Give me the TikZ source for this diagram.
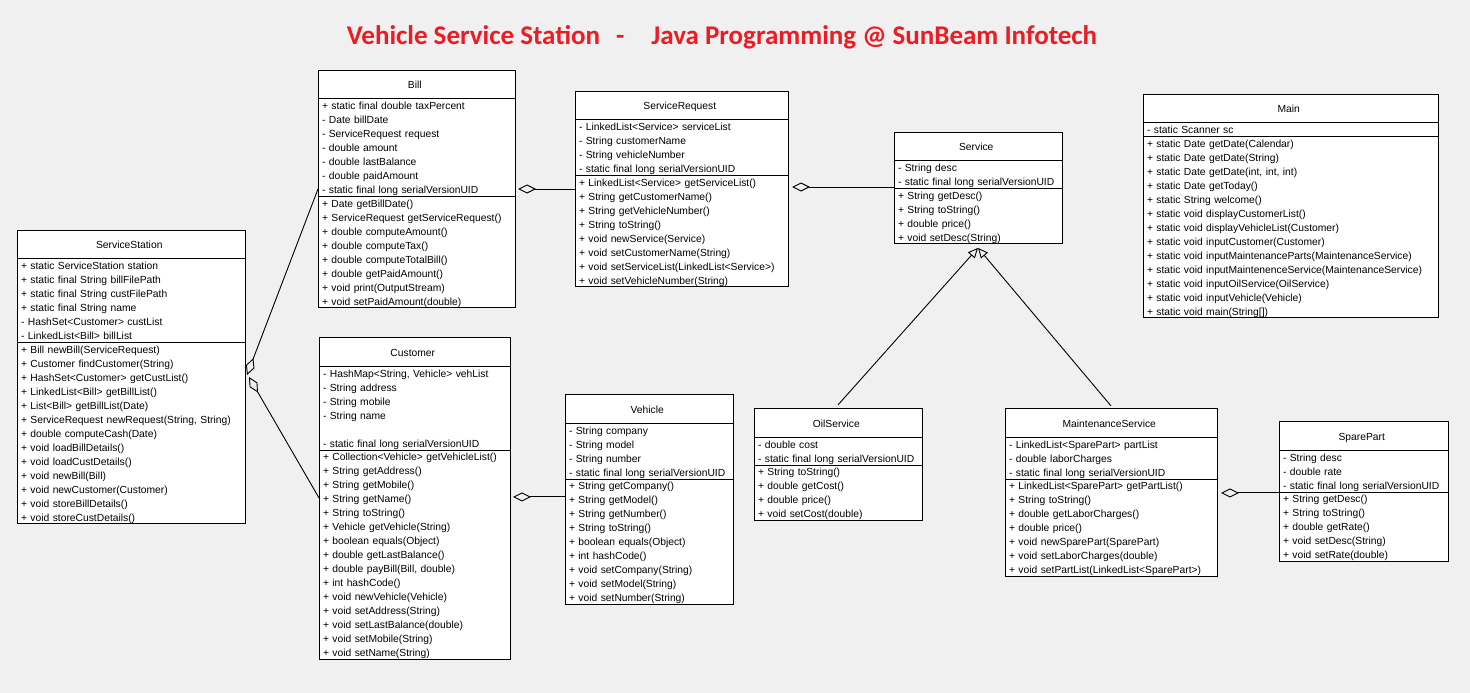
\documentclass[tikz,border=0pt]{standalone}
\usepackage{fontspec}
\setmainfont{Liberation Sans}
\newfontfamily\titlefont{Carlito}
\usetikzlibrary{shapes.multipart,positioning,arrows.meta}
\definecolor{bggray}{RGB}{240,240,240}
\definecolor{titlered}{RGB}{236,28,36}
\newcommand\clsname[1]{\hfill\rule[-10.2pt]{0pt}{28pt}#1\hfill\mbox{}}
\newcommand\linestrut{\rule[-2.4pt]{0pt}{12.6pt}}

\begin{document}
\begin{tikzpicture}[x=1pt, y=-1pt, line width=0.9pt,
  cls/.style={rectangle split, rectangle split parts=3, draw, fill=white,
    text width=#1-8pt, inner xsep=4pt, inner ysep=0pt, outer sep=0pt,
    font={\fontsize{10.3}{14}\selectfont\hyphenpenalty=10000},
    execute at begin node=\linestrut, execute at end node=\linestrut},
  agg/.style={{Diamond[open,length=18pt,width=9pt]}-},
  gen/.style={-{Triangle[open,length=10pt,width=9pt]}}]
  \path[fill=bggray] (0,0) rectangle (1470,693);
  \useasboundingbox (0,0) rectangle (1470,693);
  \node[font={\titlefont\bfseries\fontsize{27}{32}\selectfont}, text=titlered] (title) at (722,37)
    {Vehicle Service Station\hspace{16pt}-\hspace{27pt}Java Programming @ SunBeam Infotech};

  \node[cls=197pt, anchor=north west] (bill) at (318,70) {\clsname{Bill}
    \nodepart{second}+ static final double taxPercent\\
    - Date billDate\\
    - ServiceRequest request\\
    - double amount\\
    - double lastBalance\\
    - double paidAmount\\
    - static final long serialVersionUID
    \nodepart{third}+ Date getBillDate()\\
    + ServiceRequest getServiceRequest()\\
    + double computeAmount()\\
    + double computeTax()\\
    + double computeTotalBill()\\
    + double getPaidAmount()\\
    + void print(OutputStream)\\
    + void setPaidAmount(double)};
  \node[cls=228pt, below left=160pt and 301pt of bill.north west, anchor=north west] (ss) {\clsname{ServiceStation}
    \nodepart{second}+ static ServiceStation station\\
    + static final String billFilePath\\
    + static final String custFilePath\\
    + static final String name\\
    - HashSet<Customer> custList\\
    - LinkedList<Bill> billList
    \nodepart{third}+ Bill newBill(ServiceRequest)\\
    + Customer findCustomer(String)\\
    + HashSet<Customer> getCustList()\\
    + LinkedList<Bill> getBillList()\\
    + List<Bill> getBillList(Date)\\
    + ServiceRequest newRequest(String, String)\\
    + double computeCash(Date)\\
    + void loadBillDetails()\\
    + void loadCustDetails()\\
    + void newBill(Bill)\\
    + void newCustomer(Customer)\\
    + void storeBillDetails()\\
    + void storeCustDetails()};
  \node[cls=213pt, below right=21pt and 60pt of bill.north east, anchor=north west] (sreq) {\clsname{ServiceRequest}
    \nodepart{second}- LinkedList<Service> serviceList\\
    - String customerName\\
    - String vehicleNumber\\
    - static final long serialVersionUID
    \nodepart{third}+ LinkedList<Service> getServiceList()\\
    + String getCustomerName()\\
    + String getVehicleNumber()\\
    + String toString()\\
    + void newService(Service)\\
    + void setCustomerName(String)\\
    + void setServiceList(LinkedList<Service>)\\
    + void setVehicleNumber(String)};
  \node[cls=168pt, below right=41pt and 106pt of sreq.north east, anchor=north west] (serv) {\clsname{Service}
    \nodepart{second}- String desc\\
    - static final long serialVersionUID
    \nodepart{third}+ String getDesc()\\
    + String toString()\\
    + double price()\\
    + void setDesc(String)};
  \node[cls=295pt, above right=38pt and 81pt of serv.north east, anchor=north west] (mainc) {\clsname{Main}
    \nodepart{second}- static Scanner sc
    \nodepart{third}+ static Date getDate(Calendar)\\
    + static Date getDate(String)\\
    + static Date getDate(int, int, int)\\
    + static Date getToday()\\
    + static String welcome()\\
    + static void displayCustomerList()\\
    + static void displayVehicleList(Customer)\\
    + static void inputCustomer(Customer)\\
    + static void inputMaintenanceParts(MaintenanceService)\\
    + static void inputMaintenenceService(MaintenanceService)\\
    + static void inputOilService(OilService)\\
    + static void inputVehicle(Vehicle)\\
    + static void main(String[])};
  \node[cls=191pt, below right=30pt and 1pt of bill.south west, anchor=north west] (cust) {\clsname{Customer}
    \nodepart{second}- HashMap<String, Vehicle> vehList\\
    - String address\\
    - String mobile\\
    - String name\\
    ~\\
    - static final long serialVersionUID
    \nodepart{third}+ Collection<Vehicle> getVehicleList()\\
    + String getAddress()\\
    + String getMobile()\\
    + String getName()\\
    + String toString()\\
    + Vehicle getVehicle(String)\\
    + boolean equals(Object)\\
    + double getLastBalance()\\
    + double payBill(Bill, double)\\
    + int hashCode()\\
    + void newVehicle(Vehicle)\\
    + void setAddress(String)\\
    + void setLastBalance(double)\\
    + void setMobile(String)\\
    + void setName(String)};
  \node[cls=168pt, below right=57pt and 55pt of cust.north east, anchor=north west] (veh) {\clsname{Vehicle}
    \nodepart{second}- String company\\
    - String model\\
    - String number\\
    - static final long serialVersionUID
    \nodepart{third}+ String getCompany()\\
    + String getModel()\\
    + String getNumber()\\
    + String toString()\\
    + boolean equals(Object)\\
    + int hashCode()\\
    + void setCompany(String)\\
    + void setModel(String)\\
    + void setNumber(String)};
  \node[cls=168pt, below right=14pt and 21pt of veh.north east, anchor=north west] (oil) {\clsname{OilService}
    \nodepart{second}- double cost\\
    - static final long serialVersionUID
    \nodepart{third}+ String toString()\\
    + double getCost()\\
    + double price()\\
    + void setCost(double)};
  \node[cls=212pt, right=83pt of oil.north east, anchor=north west] (maint) {\clsname{MaintenanceService}
    \nodepart{second}- LinkedList<SparePart> partList\\
    - double laborCharges\\
    - static final long serialVersionUID
    \nodepart{third}+ LinkedList<SparePart> getPartList()\\
    + String toString()\\
    + double getLaborCharges()\\
    + double price()\\
    + void newSparePart(SparePart)\\
    + void setLaborCharges(double)\\
    + void setPartList(LinkedList<SparePart>)};
  \node[cls=169pt, below right=13pt and 62pt of maint.north east, anchor=north west] (spare) {\clsname{SparePart}
    \nodepart{second}- String desc\\
    - double rate\\
    - static final long serialVersionUID
    \nodepart{third}+ String getDesc()\\
    + String toString()\\
    + double getRate()\\
    + void setDesc(String)\\
    + void setRate(double)};

  \draw[agg] ([xshift=2pt,yshift=-145pt]ss.north east) -- ([yshift=-119pt]bill.north west);
  \draw[agg] ([xshift=4pt,yshift=-147pt]ss.north east) -- ([yshift=-160pt]cust.north west);
  \draw[agg] ([xshift=3pt,yshift=-119pt]bill.north east) -- ([yshift=-98pt]sreq.north west);
  \draw[agg] ([xshift=4pt,yshift=-96pt]sreq.north east) -- ([yshift=-55pt]serv.north west);
  \draw[agg] ([xshift=3pt,yshift=-159pt]cust.north east) -- ([yshift=-102pt]veh.north west);
  \draw[agg] ([xshift=4pt,yshift=-84pt]maint.north east) -- ([yshift=-71pt]spare.north west);
  \draw[gen] ([yshift=4pt]oil.north) -- ([yshift=-4pt]serv.south);
  \draw[gen] ([yshift=3pt]maint.north) -- ([yshift=-4pt]serv.south);
\end{tikzpicture}
\end{document}
